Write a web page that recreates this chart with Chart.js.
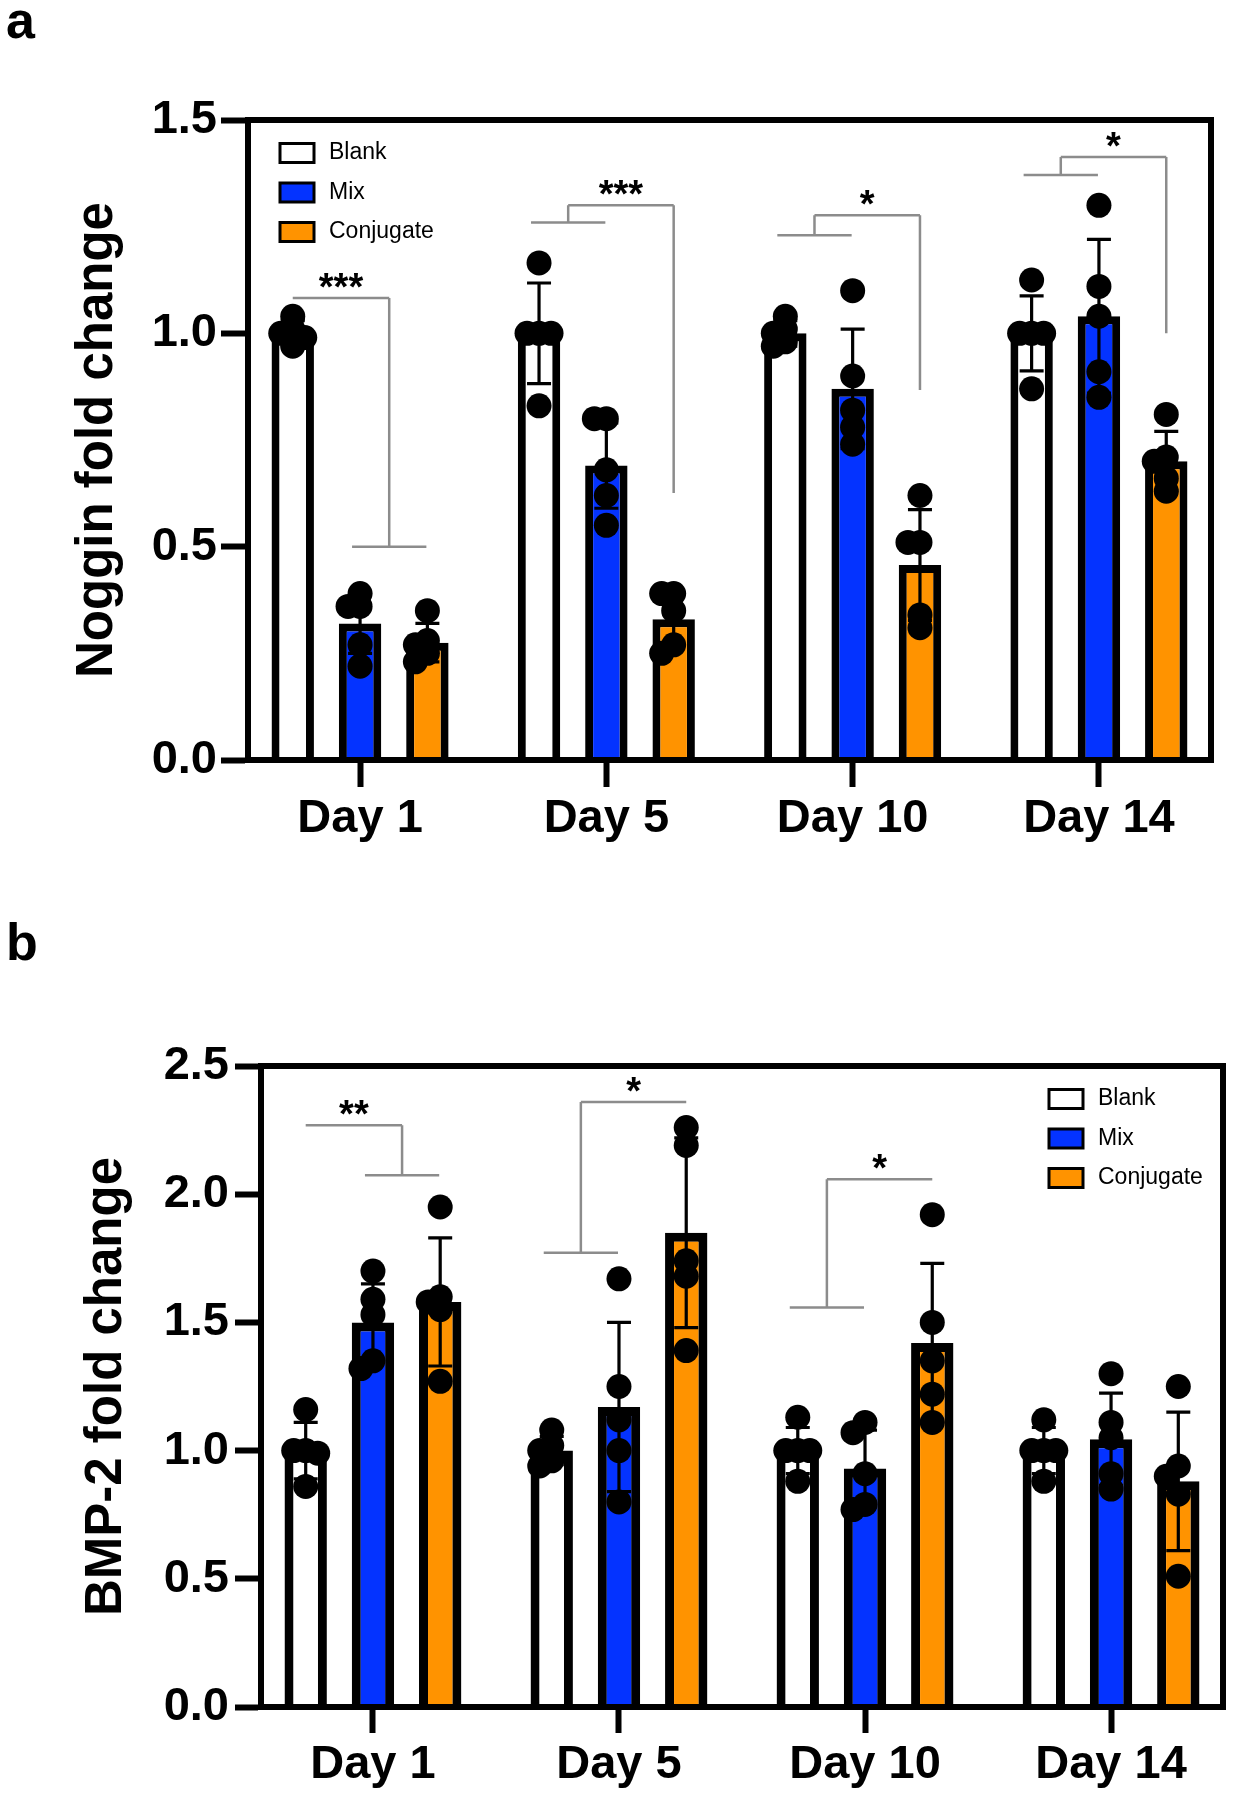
<!DOCTYPE html>
<html lang="en">
<head>
<meta charset="utf-8">
<title>Noggin and BMP-2 fold change</title>
<script src="https://cdn.jsdelivr.net/npm/chart.js@4.4.1/dist/chart.umd.min.js"></script>
<style>
    html, body { margin: 0; padding: 0; background: #ffffff; }
    body { position: relative; width: 1234px; height: 1800px; overflow: hidden; font-family: "Liberation Sans", Arial, sans-serif; }
    canvas { position: absolute; left: 0; }
    #chartA { top: 0; }
    #chartB { top: 900px; }
    .panel-letter { position: absolute; left: 6px; font-size: 52px; line-height: 52px; font-weight: bold; color: #000; }
</style>
</head>
<body>
<canvas id="chartA" width="1234" height="880"></canvas>
<canvas id="chartB" width="1234" height="900"></canvas>
<div class="panel-letter" style="top: -6px;">a</div>
<div class="panel-letter" style="top: 916px;">b</div>
<script>
const dayLabels = ["Day 1", "Day 5", "Day 10", "Day 14"];
const groupNames = ["Blank", "Mix", "Conjugate"];
const groupColors = ["#ffffff", "#0433ff", "#ff9300"];

// panel a - Noggin: bar = mean, whisker = SD, dots = replicates
const nogginTicks = [0, 0.5, 1.0, 1.5];
const nogginBlankMean = [1.00, 1.00, 1.00, 1.00];
const nogginMixMean = [0.32, 0.69, 0.87, 1.04];
const nogginConjMean = [0.275, 0.33, 0.457, 0.70];
const nogginBlankSd = [0.03, 0.118, 0.03, 0.088];
const nogginMixSd = [0.07, 0.10, 0.14, 0.18];
const nogginConjSd = [0.045, 0.06, 0.13, 0.07];
const nogginBlankPts = [[1.04, 1.01, 1.00, 0.99, 0.97], [1.165, 1.00, 1.00, 1.00, 0.83], [1.04, 1.01, 1.00, 0.98, 0.97], [1.125, 1.00, 1.00, 1.00, 0.87]];
const nogginMixPts = [[0.39, 0.36, 0.36, 0.27, 0.22], [0.80, 0.80, 0.68, 0.62, 0.55], [1.10, 0.90, 0.82, 0.78, 0.74], [1.30, 1.11, 1.04, 0.91, 0.85]];
const nogginConjPts = [[0.35, 0.28, 0.27, 0.25, 0.23], [0.39, 0.39, 0.35, 0.27, 0.25], [0.62, 0.51, 0.51, 0.34, 0.31], [0.81, 0.71, 0.70, 0.66, 0.63]];
const nogginBrackets = [
    { day: 0, left: [0], right: [1, 2], leftY: 1.083, topY: 1.083, rightY: 0.50, text: "***" },
    { day: 1, left: [0, 1], right: [2], leftY: 1.26, topY: 1.30, rightY: 0.626, text: "***" },
    { day: 2, left: [0, 1], right: [2], leftY: 1.23, topY: 1.277, rightY: 0.867, text: "*" },
    { day: 3, left: [0, 1], right: [2], leftY: 1.371, topY: 1.413, rightY: 1.00, text: "*" }
];

// panel b - BMP-2
const bmpTicks = [0, 0.5, 1.0, 1.5, 2.0, 2.5];
const bmpBlankMean = [1.00, 1.00, 1.00, 1.00];
const bmpMixMean = [1.50, 1.17, 0.93, 1.044];
const bmpConjMean = [1.58, 1.85, 1.42, 0.88];
const bmpBlankSd = [0.11, 0.055, 0.09, 0.09];
const bmpMixSd = [0.15, 0.33, 0.15, 0.18];
const bmpConjSd = [0.25, 0.37, 0.31, 0.27];
const bmpBlankPts = [[1.16, 1.00, 1.00, 0.99, 0.86], [1.08, 1.02, 1.00, 0.96, 0.94], [1.13, 1.00, 1.00, 1.00, 0.88], [1.12, 1.00, 1.00, 1.00, 0.88]];
const bmpMixPts = [[1.70, 1.59, 1.53, 1.35, 1.32], [1.67, 1.25, 1.12, 1.00, 0.80], [1.11, 1.07, 0.91, 0.79, 0.77], [1.30, 1.11, 1.05, 0.91, 0.85]];
const bmpConjPts = [[1.95, 1.60, 1.58, 1.55, 1.27], [2.26, 2.19, 1.74, 1.68, 1.39], [1.92, 1.50, 1.35, 1.22, 1.11], [1.25, 0.94, 0.90, 0.83, 0.51]];
const bmpBrackets = [
    { day: 0, left: [0], right: [1, 2], leftY: 2.269, topY: 2.269, rightY: 2.074, text: "**" },
    { day: 1, left: [0, 1], right: [2], leftY: 1.772, topY: 2.36, rightY: 2.36, text: "*" },
    { day: 2, left: [0, 1], right: [2], leftY: 1.558, topY: 2.058, rightY: 2.058, text: "*" }
];

const FONT = "Liberation Sans";

// push overlapping replicate dots sideways, like a scatter-dot bar plot
function spread(pys, step, minDist) {
    const placed = [];
    return pys.map(function (py) {
        let best = 0;
        let bestGap = -1;
        for (const dx of [0, -step, step, -1.6 * step, 1.6 * step]) {
            let gap = Infinity;
            placed.forEach(function (p) { gap = Math.min(gap, Math.hypot(p.dx - dx, p.py - py)); });
            if (gap >= minDist) { best = dx; bestGap = gap; break; }
            if (gap > bestGap) { best = dx; bestGap = gap; }
        }
        placed.push({ dx: best, py: py });
        return best;
    });
}

function makeOverlay(brackets, legendPos) {
    return {
        id: "overlay",
        afterDatasetsDraw(chart) {
            const ctx = chart.ctx;
            const yScale = chart.scales.y;
            const area = chart.chartArea;
            const centre = function (g, day) { return chart.getDatasetMeta(g).data[day].x; };
            ctx.save();

            // whiskers
            chart.data.datasets.forEach(function (ds, g) {
                chart.getDatasetMeta(g).data.forEach(function (bar, day) {
                    const mean = ds.data[day].y;
                    const hi = yScale.getPixelForValue(mean + ds.sd[day]);
                    const lo = yScale.getPixelForValue(mean - ds.sd[day]);
                    ctx.strokeStyle = "#000";
                    ctx.lineWidth = 3.2;
                    ctx.beginPath();
                    ctx.moveTo(bar.x, hi); ctx.lineTo(bar.x, lo);
                    ctx.moveTo(bar.x - 12, hi); ctx.lineTo(bar.x + 12, hi);
                    ctx.moveTo(bar.x - 12, lo); ctx.lineTo(bar.x + 12, lo);
                    ctx.stroke();
                });
            });

            // replicate dots
            ctx.fillStyle = "#000";
            chart.data.datasets.forEach(function (ds, g) {
                chart.getDatasetMeta(g).data.forEach(function (bar, day) {
                    const pys = ds.points[day].map(function (v) { return yScale.getPixelForValue(v); });
                    const dxs = spread(pys, 12, 11);
                    pys.forEach(function (py, k) {
                        ctx.beginPath();
                        ctx.arc(bar.x + dxs[k], py, 12.5, 0, Math.PI * 2);
                        ctx.fill();
                    });
                });
            });

            // frame round the plot
            ctx.lineWidth = 6;
            ctx.strokeStyle = "#000";
            ctx.strokeRect(area.left, area.top, area.right - area.left, area.bottom - area.top);

            // significance brackets
            brackets.forEach(function (b) {
                const side = function (groups, val) {
                    const xs = groups.map(function (g) { return centre(g, b.day); });
                    const py = yScale.getPixelForValue(val);
                    if (xs.length === 1) return { x: xs[0], py: py, span: null };
                    const x0 = Math.min.apply(null, xs) - 8;
                    const x1 = Math.max.apply(null, xs) - 1;
                    return { x: (x0 + x1) / 2, py: py, span: [x0, x1] };
                };
                const L = side(b.left, b.leftY);
                const R = side(b.right, b.rightY);
                const top = yScale.getPixelForValue(b.topY);
                ctx.strokeStyle = "#8c8c8c";
                ctx.lineWidth = 2.5;
                ctx.beginPath();
                [L, R].forEach(function (s) {
                    if (s.span) { ctx.moveTo(s.span[0], s.py); ctx.lineTo(s.span[1], s.py); }
                    ctx.moveTo(s.x, s.py); ctx.lineTo(s.x, top);
                });
                ctx.moveTo(L.x, top); ctx.lineTo(R.x, top);
                ctx.stroke();
                ctx.fillStyle = "#000";
                ctx.font = "bold 38px '" + FONT + "'";
                ctx.textAlign = "center";
                ctx.textBaseline = "alphabetic";
                ctx.fillText(b.text, (L.x + R.x) / 2, top + 2);
            });

            // legend inside the plot
            const bx = legendPos.fromRight ? area.right - legendPos.fromRight : area.left + legendPos.fromLeft;
            chart.data.datasets.forEach(function (ds, g) {
                const cy = area.top + 33 + g * 39.5;
                ctx.fillStyle = ds.backgroundColor;
                ctx.fillRect(bx, cy - 9.5, 34, 19);
                ctx.lineWidth = 3;
                ctx.strokeStyle = "#000";
                ctx.strokeRect(bx, cy - 9.5, 34, 19);
                ctx.fillStyle = "#000";
                ctx.font = "23px '" + FONT + "'";
                ctx.textAlign = "left";
                ctx.textBaseline = "middle";
                ctx.fillText(ds.label, bx + 49, cy);
            });
            ctx.restore();
        }
    };
}

function buildChart(id, c) {
    const datasets = groupNames.map(function (name, g) {
        return {
            label: name,
            data: c.means[g].map(function (v, i) { return { x: i, y: v }; }),
            sd: c.sds[g],
            points: c.points[g],
            backgroundColor: groupColors[g],
            borderColor: "#000",
            borderWidth: c.barBorder,
            borderSkipped: "start",
            categoryPercentage: 0.82,
            barPercentage: 0.63
        };
    });

    return new Chart(document.getElementById(id).getContext("2d"), {
        type: "bar",
        data: { datasets: datasets },
        options: {
            responsive: false,
            animation: false,
            events: [],
            layout: { padding: { top: c.padTop, right: c.padRight, bottom: 0, left: 0 } },
            plugins: { legend: { display: false }, tooltip: { enabled: false } },
            scales: {
                x: {
                    type: "linear",
                    min: -0.455,
                    max: 3.455,
                    offset: false,
                    afterBuildTicks: function (s) { s.ticks = dayLabels.map(function (d, i) { return { value: i }; }); },
                    afterFit: function (s) { s.height = c.xHeight; },
                    grid: { offset: false, drawOnChartArea: false, drawTicks: true, tickLength: c.tickLen, tickWidth: 6, tickColor: "#000" },
                    border: { display: true, width: 6, color: "#000" },
                    ticks: {
                        autoSkip: false,
                        maxRotation: 0,
                        padding: 4,
                        color: "#000",
                        font: { family: FONT, size: 47, weight: "bold" },
                        callback: function (v, i) { return dayLabels[i]; }
                    }
                },
                y: {
                    min: 0,
                    max: c.yTicks[c.yTicks.length - 1],
                    afterBuildTicks: function (s) { s.ticks = c.yTicks.map(function (v) { return { value: v }; }); },
                    afterFit: function (s) { s.width = c.yWidth; },
                    grid: { drawOnChartArea: false, drawTicks: true, tickLength: c.tickLen, tickWidth: 6, tickColor: "#000" },
                    border: { display: true, width: 6, color: "#000" },
                    ticks: {
                        padding: c.yLabelPad,
                        color: "#000",
                        font: { family: FONT, size: 47, weight: "bold" },
                        callback: function (v) { return v.toFixed(1); }
                    },
                    title: {
                        display: true,
                        text: c.yTitle,
                        color: "#000",
                        padding: { top: c.titlePad, bottom: 0 },
                        font: { family: FONT, size: 51, weight: "bold" }
                    }
                }
            }
        },
        plugins: [makeOverlay(c.brackets, c.legend)]
    });
}

document.addEventListener("DOMContentLoaded", function () {
    buildChart("chartA", {
        means: [nogginBlankMean, nogginMixMean, nogginConjMean],
        sds: [nogginBlankSd, nogginMixSd, nogginConjSd],
        points: [nogginBlankPts, nogginMixPts, nogginConjPts],
        yTicks: nogginTicks,
        yTitle: "Noggin fold change",
        brackets: nogginBrackets,
        legend: { fromLeft: 32 },
        barBorder: 8,
        padTop: 120,
        padRight: 23,
        xHeight: 120,
        yWidth: 248,
        tickLen: 27,
        yLabelPad: 4,
        titlePad: 67
    });

    buildChart("chartB", {
        means: [bmpBlankMean, bmpMixMean, bmpConjMean],
        sds: [bmpBlankSd, bmpMixSd, bmpConjSd],
        points: [bmpBlankPts, bmpMixPts, bmpConjPts],
        yTicks: bmpTicks,
        yTitle: "BMP-2 fold change",
        brackets: bmpBrackets,
        legend: { fromRight: 174 },
        barBorder: 9,
        padTop: 166,
        padRight: 11,
        xHeight: 93,
        yWidth: 261,
        tickLen: 26,
        yLabelPad: 6,
        titlePad: 76
    });
});
</script>
</body>
</html>
